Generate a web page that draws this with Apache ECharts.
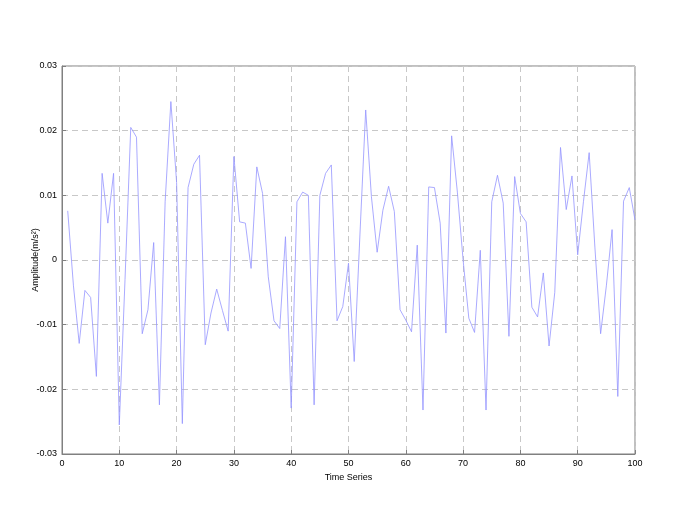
<!DOCTYPE html>
<html>
<head>
<meta charset="utf-8">
<script src="https://cdn.jsdelivr.net/npm/echarts@6/dist/echarts.min.js"></script>
<style>
html,body{margin:0;padding:0;background:#fff;}
#chart{width:685px;height:532px;}
</style>
</head>
<body>
<div id="chart"></div>
<script>
// Amplitude values for time steps 1..100
const amplitude = [
  0.0076, -0.004, -0.0129, -0.0047, -0.0058, -0.018, 0.0134, 0.0057, 0.0134, -0.0255,
  -0.003, 0.0205, 0.019, -0.0114, -0.0077, 0.0027, -0.0224, 0.009, 0.0245, 0.012,
  -0.0253, 0.0112, 0.0148, 0.0162, -0.0131, -0.0082, -0.0045, -0.0078, -0.011, 0.016,
  0.0059, 0.0057, -0.0013, 0.0144, 0.0103, -0.0026, -0.0094, -0.0106, 0.0036, -0.0229,
  0.009, 0.0105, 0.0100, -0.0224, 0.0100, 0.0134, 0.0147, -0.0094, -0.0072, -0.0005,
  -0.0157, 0.004, 0.0232, 0.0098, 0.0012, 0.0077, 0.0114, 0.0075, -0.0077, -0.0093,
  -0.0111, 0.0023, -0.0232, 0.0113, 0.0112, 0.0057, -0.0113, 0.0192, 0.0105, 0.0,
  -0.009, -0.0112, 0.0015, -0.0232, 0.009, 0.0131, 0.0088, -0.0118, 0.0129, 0.0072,
  0.0059, -0.0073, -0.0088, -0.002, -0.0133, -0.005, 0.0174, 0.0078, 0.013, 0.0008,
  0.009, 0.0166, 0.002, -0.0114, -0.004, 0.0047, -0.0211, 0.0091, 0.0112, 0.0062
];
const firstStep = 1;
const xTitle = 'Time Series';
const yTitle = 'Amplitude(m/s²)';

const seriesData = amplitude.map((v, i) => [firstStep + i, v]);

const font = 'Liberation Sans, Arial, sans-serif';
const chart = echarts.init(document.getElementById('chart'), null, {renderer: 'canvas'});
chart.setOption({
  animation: false,
  backgroundColor: '#ffffff',
  grid: {
    left: 62, top: 66, width: 573, height: 388,
    show: true, borderColor: '#808080', borderWidth: 1, backgroundColor: 'transparent'
  },
  xAxis: {
    type: 'value', min: 0, max: 100, interval: 10,
    name: xTitle, nameLocation: 'middle', nameGap: 19, nameMoveOverlap: false,
    nameTextStyle: {fontFamily: font, fontSize: 9, color: '#000'},
    axisLine: {show: true, onZero: false, lineStyle: {color: '#808080', width: 1}},
    axisTick: {show: true, inside: true, length: 4, lineStyle: {color: '#808080'}},
    axisLabel: {fontFamily: font, fontSize: 9, color: '#000', margin: 5},
    splitLine: {show: true, lineStyle: {color: '#c8c8c8', type: [6, 4], width: 1}}
  },
  yAxis: {
    type: 'value', min: -0.03, max: 0.03, interval: 0.01,
    name: yTitle, nameLocation: 'middle', nameGap: 22, nameRotate: 90, nameMoveOverlap: false,
    nameTextStyle: {fontFamily: font, fontSize: 9, color: '#000'},
    axisLine: {show: true, onZero: false, lineStyle: {color: '#808080', width: 1}},
    axisTick: {show: true, inside: true, length: 4, lineStyle: {color: '#808080'}},
    axisLabel: {
      fontFamily: font, fontSize: 9, color: '#000', margin: 5,
      formatter: v => String(parseFloat(v.toFixed(2)))
    },
    splitLine: {show: true, lineStyle: {color: '#c8c8c8', type: [6, 4], width: 1}}
  },
  series: [{
    type: 'line',
    data: seriesData,
    showSymbol: false,
    symbol: 'none',
    lineStyle: {color: '#9494ff', width: 0.8},
    silent: true
  }]
});
</script>
</body>
</html>
